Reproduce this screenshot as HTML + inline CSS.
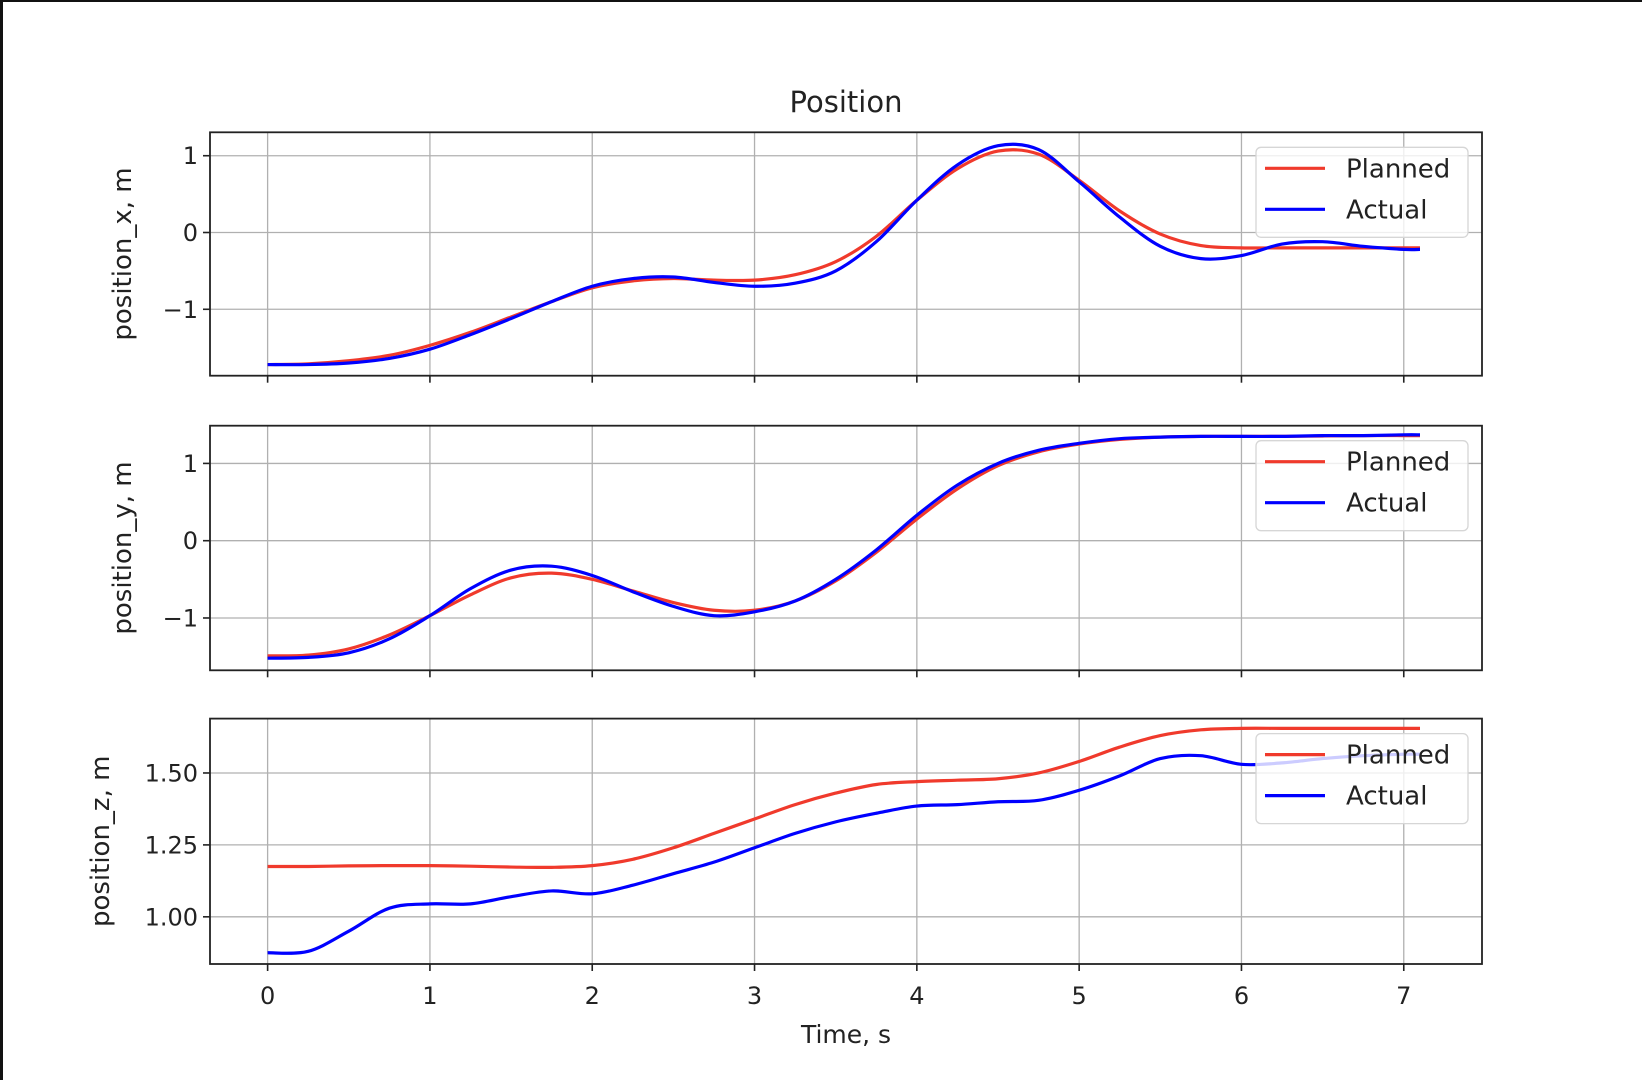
<!DOCTYPE html>
<html><head><meta charset="utf-8">
<style>
html,body{margin:0;padding:0;background:#fff;}
#wrap{position:relative;width:1642px;height:1080px;overflow:hidden;background:#fff;}
#bl{position:absolute;left:0;top:0;width:3px;height:1080px;background:#111;}
#bt{position:absolute;left:0;top:0;width:1642px;height:2px;background:#111;}
svg text{font-family:"DejaVu Sans","Liberation Sans",sans-serif;fill:#222;}
</style></head>
<body>
<div id="wrap">
<div id="bl"></div>
<div id="bt"></div>
<svg id="chart" width="1642" height="1080" xmlns="http://www.w3.org/2000/svg"></svg>
</div>
<script>
const T = [0,0.25,0.5,0.75,1,1.25,1.5,1.75,2,2.25,2.5,2.75,3,3.25,3.5,3.75,4,4.25,4.5,4.75,5,5.25,5.5,5.75,6,6.25,6.5,6.75,7,7.1];
const xPlanned = [-1.72,-1.71,-1.67,-1.6,-1.47,-1.3,-1.1,-0.9,-0.72,-0.63,-0.6,-0.62,-0.62,-0.55,-0.38,-0.05,0.42,0.83,1.06,1.02,0.68,0.28,-0.02,-0.17,-0.2,-0.2,-0.2,-0.2,-0.2,-0.2];
const xActual = [-1.72,-1.72,-1.7,-1.64,-1.52,-1.33,-1.12,-0.9,-0.7,-0.6,-0.58,-0.65,-0.7,-0.66,-0.5,-0.12,0.42,0.88,1.13,1.08,0.66,0.2,-0.18,-0.34,-0.3,-0.15,-0.12,-0.18,-0.22,-0.22];
const yPlanned = [-1.49,-1.48,-1.4,-1.22,-0.97,-0.7,-0.48,-0.42,-0.5,-0.65,-0.8,-0.9,-0.9,-0.78,-0.52,-0.15,0.28,0.67,0.97,1.15,1.25,1.31,1.34,1.35,1.35,1.35,1.355,1.36,1.36,1.36];
const yActual = [-1.52,-1.51,-1.45,-1.27,-0.97,-0.62,-0.38,-0.33,-0.45,-0.66,-0.85,-0.97,-0.92,-0.78,-0.5,-0.12,0.33,0.72,1.0,1.17,1.26,1.32,1.34,1.35,1.35,1.35,1.36,1.36,1.37,1.37];
const zPlanned = [1.175,1.175,1.177,1.178,1.178,1.176,1.173,1.172,1.178,1.2,1.24,1.29,1.34,1.39,1.43,1.46,1.47,1.475,1.48,1.5,1.54,1.59,1.63,1.65,1.655,1.655,1.655,1.655,1.655,1.655];
const zActual = [0.875,0.88,0.95,1.03,1.045,1.045,1.07,1.09,1.08,1.11,1.15,1.19,1.24,1.29,1.33,1.36,1.385,1.39,1.4,1.405,1.44,1.49,1.55,1.56,1.53,1.535,1.55,1.56,1.565,1.565];
const xTicks = [0,1,2,3,4,5,6,7];
const xTickLabels = ["0","1","2","3","4","5","6","7"];
const xyTicks = [-1,0,1];
const xyTickLabels = ["\u22121","0","1"];
const zTicks = [1.0,1.25,1.5];
const zTickLabels = ["1.00","1.25","1.50"];

const svg = document.getElementById('chart');
const NS = 'http://www.w3.org/2000/svg';
function mk(tag, attrs, parent){const e=document.createElementNS(NS,tag);for(const k in attrs)e.setAttribute(k,attrs[k]);(parent||svg).appendChild(e);return e;}

const L=210,R=1482,XMIN=-0.355,XMAX=7.482;
const sx = v => L + (v-XMIN)/(XMAX-XMIN)*(R-L);

const panels = [
 {name:'x',top:132.3,bot:375.7,ymin:-1.865,ymax:1.305,ticks:xyTicks,labels:xyTickLabels,p:xPlanned,a:xActual,ylab:'position_x, m',labx:122,showX:false},
 {name:'y',top:425.7,bot:670.3,ymin:-1.677,ymax:1.488,ticks:xyTicks,labels:xyTickLabels,p:yPlanned,a:yActual,ylab:'position_y, m',labx:122,showX:false},
 {name:'z',top:718.6,bot:964,ymin:0.836,ymax:1.689,ticks:zTicks,labels:zTickLabels,p:zPlanned,a:zActual,ylab:'position_z, m',labx:100,showX:true}
];

function pathFrom(xs, ys){
  const pts = xs.map((x,i)=>[x,ys[i]]);
  let d = 'M'+pts[0][0].toFixed(2)+','+pts[0][1].toFixed(2);
  for(let i=0;i<pts.length-1;i++){
    const p0=pts[Math.max(0,i-1)],p1=pts[i],p2=pts[i+1],p3=pts[Math.min(pts.length-1,i+2)];
    const c1=[p1[0]+(p2[0]-p0[0])/6,p1[1]+(p2[1]-p0[1])/6];
    const c2=[p2[0]-(p3[0]-p1[0])/6,p2[1]-(p3[1]-p1[1])/6];
    d+=' C'+c1[0].toFixed(2)+','+c1[1].toFixed(2)+' '+c2[0].toFixed(2)+','+c2[1].toFixed(2)+' '+p2[0].toFixed(2)+','+p2[1].toFixed(2);
  }
  return d;
}

const title = mk('text',{x:846,y:112,'text-anchor':'middle','font-size':'29'});


title.textContent='Position';

panels.forEach(P=>{
  const sy = v => P.bot - (v-P.ymin)/(P.ymax-P.ymin)*(P.bot-P.top);
  const g = mk('g',{});
  
  
  xTicks.forEach(t=>{
    const l=mk('line',{x1:sx(t),x2:sx(t),y1:P.top,y2:P.bot,stroke:'#b0b0b0','stroke-width':1.3},g);
    
    
    const tk=mk('line',{x1:sx(t),x2:sx(t),y1:P.bot,y2:P.bot+7,stroke:'#222','stroke-width':1.6},g);
    
    
  });
  P.ticks.forEach((t,i)=>{
    const l=mk('line',{x1:L,x2:R,y1:sy(t),y2:sy(t),stroke:'#b0b0b0','stroke-width':1.3},g);
    
    
    const tk=mk('line',{x1:L-7,x2:L,y1:sy(t),y2:sy(t),stroke:'#222','stroke-width':1.6},g);
    
    
    const tx=mk('text',{x:L-12,y:sy(t)+8.5,'text-anchor':'end','font-size':'24'},g);
    
    
    tx.textContent=P.labels[i];
  });
  const clip = mk('clipPath',{id:'clip-'+P.name},g);
  mk('rect',{x:L,y:P.top,width:R-L,height:P.bot-P.top},clip);
  const xs = T.map(sx);
  const pp = mk('path',{d:pathFrom(xs,P.p.map(sy)),fill:'none',stroke:'#f03a2c','stroke-width':3.2,'clip-path':'url(#clip-'+P.name+')'},g);
  
  
  const pa = mk('path',{d:pathFrom(xs,P.a.map(sy)),fill:'none',stroke:'#0000ff','stroke-width':3.2,'clip-path':'url(#clip-'+P.name+')'},g);
  
  
  const fr=mk('rect',{x:L,y:P.top,width:R-L,height:P.bot-P.top,fill:'none',stroke:'#222','stroke-width':1.8},g);
  
  
  const cy=(P.top+P.bot)/2;
  const yl=mk('text',{x:P.labx,y:cy,'text-anchor':'middle','font-size':'26',transform:'rotate(-90 '+P.labx+' '+cy+')',dy:'9'},g);
  
  
  yl.textContent=P.ylab;
  const lg=mk('g',{},g);
  
  
  const ly=P.top+15;
  mk('rect',{x:1256,y:ly,width:212,height:90,rx:5,fill:'rgba(255,255,255,0.8)',stroke:'#d6d6d6','stroke-width':1.3},lg);
  const e1=mk('line',{x1:1265,x2:1325,y1:ly+21,y2:ly+21,stroke:'#f03a2c','stroke-width':3.2},lg);
  
  
  const t1=mk('text',{x:1346,y:ly+30,'font-size':'26'},lg);
  
  
  t1.textContent='Planned';
  const e2=mk('line',{x1:1265,x2:1325,y1:ly+62,y2:ly+62,stroke:'#0000ff','stroke-width':3.2},lg);
  
  
  const t2=mk('text',{x:1346,y:ly+71,'font-size':'26'},lg);
  
  
  t2.textContent='Actual';
  if(P.showX){
    xTicks.forEach((t,i)=>{
      const tx=mk('text',{x:sx(t),y:P.bot+40,'text-anchor':'middle','font-size':'24'},g);
      
      
      tx.textContent=xTickLabels[i];
    });
    const xl=mk('text',{x:846,y:1043,'text-anchor':'middle','font-size':'25'},g);
    
    
    xl.textContent='Time, s';
  }
});
</script>
</body></html>
